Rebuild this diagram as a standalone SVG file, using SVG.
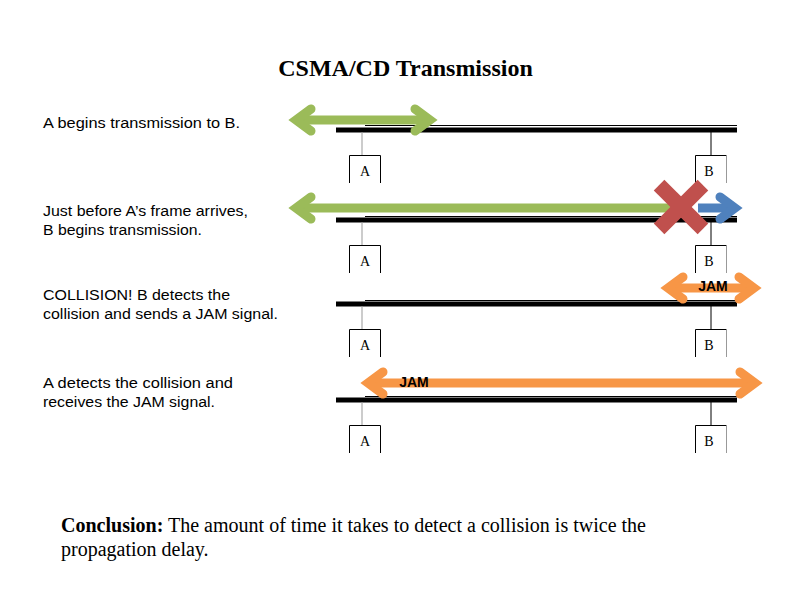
<svg xmlns="http://www.w3.org/2000/svg" width="792" height="612" viewBox="0 0 792 612">
<style>
.title{font-family:"Liberation Serif",serif;font-weight:bold;font-size:24px;fill:#000;text-anchor:middle}
.lbl{font-family:"Liberation Sans",Arial,sans-serif;font-size:14px;fill:#000}
.concl{font-family:"Liberation Serif",serif;font-size:20px;fill:#000}
.st{font-family:"Liberation Serif",serif;font-size:14px;fill:#000;text-anchor:middle}
.jam{font-family:"Liberation Sans",Arial,sans-serif;font-weight:bold;font-size:14px;fill:#000;text-anchor:middle}
.bus{stroke:#000;stroke-width:5}
.thin{stroke:#000;stroke-width:1.2}
.box{fill:none;stroke:#000;stroke-width:1}
.g{stroke:#9BBB59;stroke-width:9;fill:none}
.b{stroke:#4F81BD;stroke-width:9;fill:none}
.o{stroke:#F79646;stroke-width:9;fill:none}
</style>
<defs>
<marker id="hG" markerUnits="userSpaceOnUse" viewBox="0 0 44 40" markerWidth="44" markerHeight="40" refX="27" refY="20" orient="auto-start-reverse" overflow="visible">
<polyline points="12,9 27,20 12,31" fill="none" stroke="#9BBB59" stroke-width="9" stroke-linecap="round" stroke-linejoin="miter"/>
</marker>
<marker id="hB" markerUnits="userSpaceOnUse" viewBox="0 0 44 40" markerWidth="44" markerHeight="40" refX="27" refY="20" orient="auto-start-reverse" overflow="visible">
<polyline points="12,9 27,20 12,31" fill="none" stroke="#4F81BD" stroke-width="9" stroke-linecap="round" stroke-linejoin="miter"/>
</marker>
<marker id="hO" markerUnits="userSpaceOnUse" viewBox="0 0 44 40" markerWidth="44" markerHeight="40" refX="27" refY="20" orient="auto-start-reverse" overflow="visible">
<polyline points="12,9 27,20 12,31" fill="none" stroke="#F79646" stroke-width="9" stroke-linecap="round" stroke-linejoin="miter"/>
</marker>
</defs>
<rect width="792" height="612" fill="#fff"/>
<text class="title" x="405.5" y="76">CSMA/CD Transmission</text>
<g id="labels">
<text class="lbl" x="43" y="128" textLength="197" lengthAdjust="spacingAndGlyphs">A begins transmission to B.</text>
<text class="lbl" x="43" y="216" textLength="205" lengthAdjust="spacingAndGlyphs">Just before A’s frame arrives,</text>
<text class="lbl" x="43" y="235" textLength="159" lengthAdjust="spacingAndGlyphs">B begins transmission.</text>
<text class="lbl" x="43" y="300" textLength="187" lengthAdjust="spacingAndGlyphs">COLLISION!  B detects the</text>
<text class="lbl" x="43" y="319" textLength="235" lengthAdjust="spacingAndGlyphs">collision and sends a JAM signal.</text>
<text class="lbl" x="43" y="388" textLength="190" lengthAdjust="spacingAndGlyphs">A detects the collision and</text>
<text class="lbl" x="43" y="407" textLength="172" lengthAdjust="spacingAndGlyphs">receives the JAM signal.</text>
</g>
<g id="buses">
<line class="bus" x1="336" y1="130" x2="737" y2="130"/><line class="thin" x1="365" y1="125.5" x2="737" y2="125.5"/>
<line class="bus" x1="336" y1="220" x2="737" y2="220"/><line class="thin" x1="365" y1="216.5" x2="737" y2="216.5"/>
<line class="bus" x1="336" y1="304" x2="737" y2="304"/><line class="thin" x1="365" y1="300.5" x2="737" y2="300.5"/>
<line class="bus" x1="336" y1="400" x2="737" y2="400"/><line class="thin" x1="365" y1="396.5" x2="737" y2="396.5"/>
</g>
<g id="stationA1"><line x1="362" y1="132" x2="362" y2="155" stroke="#999"/><path class="box" d="M349.5,183 V155.5 H380.5 V183"/><text class="st" x="365" y="176">A</text></g>
<g id="stationB1"><line x1="711" y1="132" x2="711" y2="155" stroke="#000"/><path class="box" d="M695.5,183 V155.5 H726.5" /><line x1="726.5" y1="155.5" x2="726.5" y2="183" stroke="#999"/><text class="st" x="709" y="176">B</text></g>
<g id="stationA2"><line x1="362" y1="222" x2="362" y2="245" stroke="#999"/><path class="box" d="M349.5,273 V245.5 H380.5 V273"/><text class="st" x="365" y="266">A</text></g>
<g id="stationB2"><line x1="711" y1="222" x2="711" y2="245" stroke="#000"/><path class="box" d="M695.5,273 V245.5 H726.5" /><line x1="726.5" y1="245.5" x2="726.5" y2="273" stroke="#999"/><text class="st" x="709" y="266">B</text></g>
<g id="stationA3"><line x1="362" y1="306" x2="362" y2="329" stroke="#999"/><path class="box" d="M349.5,357 V329.5 H380.5 V357"/><text class="st" x="365" y="350">A</text></g>
<g id="stationB3"><line x1="711" y1="306" x2="711" y2="329" stroke="#000"/><path class="box" d="M695.5,357 V329.5 H726.5" /><line x1="726.5" y1="329.5" x2="726.5" y2="357" stroke="#999"/><text class="st" x="709" y="350">B</text></g>
<g id="stationA4"><line x1="362" y1="402" x2="362" y2="425" stroke="#999"/><path class="box" d="M349.5,453 V425.5 H380.5 V453"/><text class="st" x="365" y="446">A</text></g>
<g id="stationB4"><line x1="711" y1="402" x2="711" y2="425" stroke="#000"/><path class="box" d="M695.5,453 V425.5 H726.5" /><line x1="726.5" y1="425.5" x2="726.5" y2="453" stroke="#999"/><text class="st" x="709" y="446">B</text></g>
<g id="connectors">
<line class="g" x1="296" y1="120" x2="430" y2="120" marker-start="url(#hG)" marker-end="url(#hG)"/>
<line class="g" x1="296" y1="208" x2="672" y2="208" marker-start="url(#hG)"/>
<line class="b" x1="698" y1="208" x2="735" y2="208" marker-end="url(#hB)"/>
<line class="o" x1="668" y1="288" x2="754" y2="288" marker-start="url(#hO)" marker-end="url(#hO)"/>
<line class="o" x1="368" y1="383" x2="755" y2="383" marker-start="url(#hO)" marker-end="url(#hO)"/>
</g>
<g id="collision" fill="#C0504D">
<rect x="650" y="199.5" width="62" height="15" transform="rotate(45 681 207)"/>
<rect x="650" y="199.5" width="62" height="15" transform="rotate(-45 681 207)"/>
</g>
<text class="jam" x="713" y="291">JAM</text>
<text class="jam" x="414" y="387">JAM</text>
<g id="conclusion">
<text class="concl" x="61" y="532" textLength="585" lengthAdjust="spacingAndGlyphs"><tspan font-weight="bold">Conclusion:</tspan> The amount of time it takes to detect a collision is twice the</text>
<text class="concl" x="61" y="556">propagation delay.</text>
</g>
</svg>
